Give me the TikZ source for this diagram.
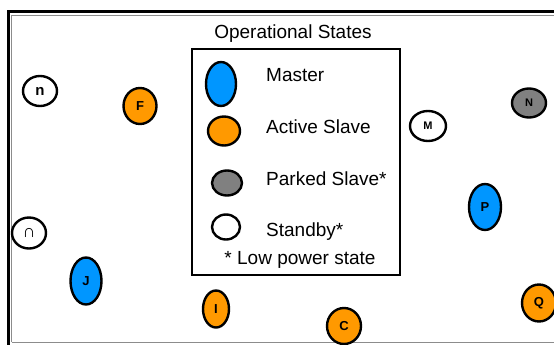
\documentclass[tikz,border=0pt]{standalone}
\usepackage{fontspec}
\setmainfont{Liberation Sans}
\usetikzlibrary{positioning,shapes.geometric}
\definecolor{mastblue}{RGB}{0,150,255}
\definecolor{actorange}{RGB}{255,153,0}
\definecolor{parkgray}{RGB}{128,128,128}
\newcommand{\devfont}{\fontsize{13}{13}\selectfont\bfseries}
\newcommand{\smallfont}{\fontsize{11}{11}\selectfont\bfseries}

\begin{document}
\begin{tikzpicture}[
    x=1pt,y=-1pt,
    dev/.style={ellipse,draw,line width=2.4pt,inner sep=0pt,font=\devfont},
    master/.style={dev,fill=mastblue,minimum width=31pt,minimum height=46pt},
    active/.style={dev,fill=actorange,minimum width=33pt,minimum height=36pt},
    parked/.style={dev,fill=parkgray,minimum width=34pt,minimum height=29pt},
    standby/.style={dev,fill=white,minimum width=34pt,minimum height=30pt},
    note/.style={font=\fontsize{19}{21}\selectfont,inner sep=0pt},
    frame/.style={line width=3pt},
    inner/.style={line width=0.8pt,black!45}
]
\useasboundingbox (0,0) rectangle (554,345);

% --- Frame ---
\draw[frame] (8.5,345) -- (8.5,11.5) -- (554,11.5);
\draw[inner] (11.5,342) -- (11.5,15.5) -- (554,15.5);
\draw[inner] (11.5,342) -- (554,342);

% --- Legend ---
\node[note] (Ttl) at (293,34) {Operational States};
\draw[line width=2.4pt] (192,49) rectangle (400,275);

\node[master,minimum width=30pt,minimum height=44pt] (Mst) at (221,84) {};
\node[active,minimum width=32pt,minimum height=29pt] (Act) at (224,131) {};
\node[parked,minimum width=30pt,minimum height=25pt] (Prk) at (227,183) {};
\node[standby,minimum width=28pt,minimum height=25pt] (Sby) at (226,227) {};

\node[note,anchor=west] at (266,75)  {Master};
\node[note,anchor=west] at (266,127) {Active Slave};
\node[note,anchor=west] at (266,179) {Parked Slave*};
\node[note,anchor=west] at (266,232) {Standby*};
\node[note] (Low) at (300,260) {* Low power state};

% --- Devices ---
\node[standby,font=\fontsize{15}{15}\selectfont\bfseries] (Dn) at (40,91) {n};
\node[active] (DF) at (140,106) {F};
\node[standby,minimum width=36pt,font=\smallfont] (DM) at (428,126) {M};
\node[parked,font=\smallfont] (DN) at (529,103) {N};
\node[master,minimum width=32pt] (DP) at (485,207) {P};
\node[standby,minimum height=31pt,font=\fontsize{18}{18}\selectfont\bfseries] (Dc) at (29,233) {∩};
\node[master,minimum width=31pt,minimum height=47pt] (DJ) at (86,281) {J};
\node[active,minimum width=26pt,minimum height=37pt] (DI) at (216,309) {I};
\node[active,minimum width=34pt] (DC) at (344,326) {C};
\node[active,minimum width=34pt,minimum height=37pt] (DQ) at (539,303) {Q};
\end{tikzpicture}
\end{document}
